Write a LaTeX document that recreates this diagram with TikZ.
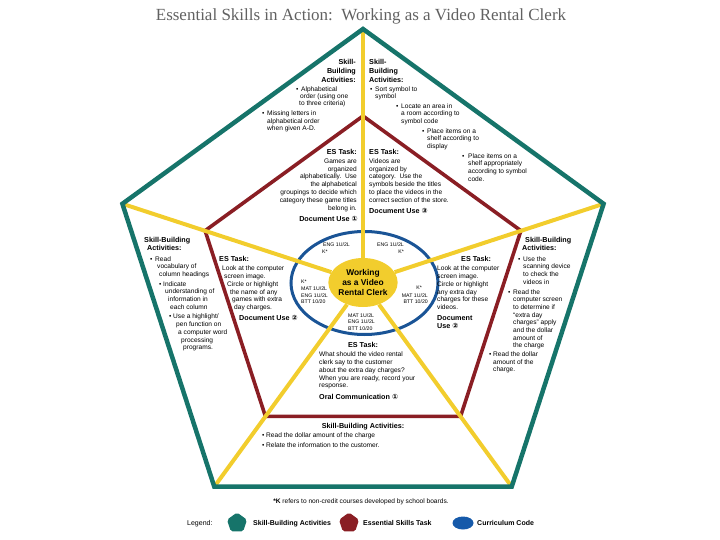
\documentclass[tikz,border=0pt]{standalone}
\usepackage{fontspec}
\setmainfont{Liberation Sans}
\newfontfamily\titlefont{Liberation Serif}
\newfontfamily\symfont{DejaVu Sans}
\usetikzlibrary{shapes.geometric}
\definecolor{skteal}{RGB}{22,116,106}
\definecolor{skred}{RGB}{138,30,36}
\definecolor{skyellow}{RGB}{242,205,45}
\definecolor{skblue}{RGB}{26,84,150}
\definecolor{sklegblue}{RGB}{22,90,170}
\newcommand\mkline[5]{\node[#1] (#2) at (#3,#4) {#5};}
\newcommand\circnum[1]{{\symfont #1}}
\begin{document}
\begin{tikzpicture}[x=1pt,y=-1pt,
  tx/.style={inner sep=0pt, font=\fontsize{6.6}{7.6}\selectfont},
  txl/.style={tx, anchor=base west},
  txr/.style={tx, anchor=base east},
  txc/.style={tx, anchor=base},
  hd/.style={inner sep=0pt, font=\bfseries\fontsize{7.2}{9}\selectfont},
  hdl/.style={hd, anchor=base west},
  hdr/.style={hd, anchor=base east},
  hdc/.style={hd, anchor=base},
  cd/.style={inner sep=0pt, font=\fontsize{5.2}{6}\selectfont},
  cdl/.style={cd, anchor=base west},
  cdr/.style={cd, anchor=base east},
  tealline/.style={draw=skteal, line width=4.5pt, line join=miter},
  redline/.style={draw=skred, line width=3.6pt, line join=miter},
  yelline/.style={draw=skyellow, line width=4pt},
  legtxt/.style={inner sep=0pt, anchor=base west, font=\bfseries\fontsize{7}{8}\selectfont}
]
\useasboundingbox (0,0) rectangle (720,540);

% vertices
\coordinate (o1) at (363,29);
\coordinate (o2) at (603.6,203.8);
\coordinate (o3) at (511.7,486.7);
\coordinate (o4) at (214.3,486.7);
\coordinate (o5) at (122.4,203.8);
\coordinate (i1) at (363,116);
\coordinate (i2) at (520.9,230.7);
\coordinate (i3) at (460.6,416.3);
\coordinate (i4) at (265.4,416.3);
\coordinate (i5) at (205.1,230.7);

% inner pentagon
\draw[redline] (i1) -- (i2) -- (i3) -- (i4) -- (i5) -- cycle;

% curriculum ellipse
\node[ellipse, draw=skblue, line width=3pt, minimum width=147pt, minimum height=103pt, inner sep=0pt] (cur) at (364.5,283) {};

% hub
\node[ellipse, fill=skyellow, minimum width=69pt, minimum height=49pt, inner sep=0pt, align=center,
      font=\bfseries\fontsize{8.4}{10}\selectfont] (hub) at (363,282.5) {Working\\as a Video\\Rental Clerk};

% spokes
\foreach \v in {o1,o2,o3,o4,o5} \draw[yelline] (hub) -- (\v);

% outer pentagon
\draw[tealline] (o1) -- (o2) -- (o3) -- (o4) -- (o5) -- cycle;

% title
\node[inner sep=0pt, anchor=base, font=\titlefont\fontsize{17}{19}\selectfont, text=black!62] (title) at (361,21)
  {Essential Skills in Action:\ \ Working as a Video Rental Clerk};

% ---- top-left skill-building
\mkline{hdr}{tla}{356}{65}{Skill-}
\mkline{hdr}{tlb}{356}{74}{Building}
\mkline{hdr}{tlc}{356}{83}{Activities:}
\mkline{txl}{tl1b}{296}{92}{\textbullet}
\mkline{txl}{tl1}{301}{92}{Alphabetical}
\mkline{txl}{tl2}{300}{99}{order (using one}
\mkline{txl}{tl3}{299}{106}{to three criteria)}
\mkline{txl}{tl4b}{262}{116}{\textbullet}
\mkline{txl}{tl4}{267}{116}{Missing letters in}
\mkline{txl}{tl5}{267}{124}{alphabetical order}
\mkline{txl}{tl6}{267}{131}{when given A-D.}

% ---- top-right skill-building
\mkline{hdl}{tra}{369}{65}{Skill-}
\mkline{hdl}{trb}{369}{74}{Building}
\mkline{hdl}{trc}{369}{83}{Activities:}
\mkline{txl}{tr1b}{370}{92}{\textbullet}
\mkline{txl}{tr1}{375}{92}{Sort symbol to}
\mkline{txl}{tr2}{375}{99}{symbol}
\mkline{txl}{tr3b}{396}{109}{\textbullet}
\mkline{txl}{tr3}{401}{109}{Locate an area in}
\mkline{txl}{tr4}{401}{116}{a room according to}
\mkline{txl}{tr5}{401}{124}{symbol code}
\mkline{txl}{tr6b}{422}{134}{\textbullet}
\mkline{txl}{tr6}{427}{134}{Place items on a}
\mkline{txl}{tr7}{427}{141}{shelf according to}
\mkline{txl}{tr8}{427}{149}{display}
\mkline{txl}{tr9b}{462}{159}{\textbullet}
\mkline{txl}{tr9}{468}{159}{Place items on a}
\mkline{txl}{tr10}{468}{166}{shelf appropriately}
\mkline{txl}{tr11}{468}{174}{according to symbol}
\mkline{txl}{tr12}{468}{182}{code.}

% ---- top-left ES task
\mkline{hdr}{ela}{357}{155}{ES Task:}
\mkline{txr}{el1}{357}{164}{Games are}
\mkline{txr}{el2}{357}{172}{organized}
\mkline{txr}{el3}{357}{179}{alphabetically.\ \ Use}
\mkline{txr}{el4}{357}{187}{the alphabetical}
\mkline{txr}{el5}{357}{195}{groupings to decide which}
\mkline{txr}{el6}{357}{203}{category these game titles}
\mkline{txr}{el7}{357}{211}{belong in.}
\mkline{hdr}{eld}{358}{222}{Document Use \circnum{①}}

% ---- top-right ES task
\mkline{hdl}{era}{369}{155}{ES Task:}
\mkline{txl}{er1}{369}{164}{Videos are}
\mkline{txl}{er2}{369}{172}{organized by}
\mkline{txl}{er3}{369}{179}{category.\ \ Use the}
\mkline{txl}{er4}{369}{187}{symbols beside the titles}
\mkline{txl}{er5}{369}{195}{to place the videos in the}
\mkline{txl}{er6}{369}{203}{correct section of the store.}
\mkline{hdl}{erd}{369}{214}{Document Use \circnum{③}}

% ---- middle-left skill-building
\mkline{hdl}{mla}{144}{243}{Skill-Building}
\mkline{hdl}{mlb}{147}{251}{Activities:}
\mkline{txl}{ml1b}{150}{261}{\textbullet}
\mkline{txl}{ml1}{155}{261}{Read}
\mkline{txl}{ml2}{157}{268}{vocabulary of}
\mkline{txl}{ml3}{159}{276}{column headings}
\mkline{txl}{ml4b}{159}{286}{\textbullet}
\mkline{txl}{ml4}{163}{286}{Indicate}
\mkline{txl}{ml5}{165}{293}{understanding of}
\mkline{txl}{ml6}{168}{301}{information in}
\mkline{txl}{ml7}{170}{309}{each column}
\mkline{txl}{ml8b}{169}{318}{\textbullet}
\mkline{txl}{ml8}{173}{318}{Use a highlight/}
\mkline{txl}{ml9}{176}{326}{pen function on}
\mkline{txl}{ml10}{178}{334}{a computer word}
\mkline{txl}{ml11}{181}{342}{processing}
\mkline{txl}{ml12}{183}{349}{programs.}

% ---- middle-left ES task
\mkline{hdl}{mea}{219}{261}{ES Task:}
\mkline{txl}{me1}{222}{270}{Look at the computer}
\mkline{txl}{me2}{224}{278}{screen image.}
\mkline{txl}{me3}{227}{286}{Circle or highlight}
\mkline{txl}{me4}{230}{294}{the name of any}
\mkline{txl}{me5}{232}{301}{games with extra}
\mkline{txl}{me6}{234}{309}{day charges.}
\mkline{hdl}{med}{239}{320}{Document Use \circnum{②}}

% ---- middle-right ES task
\mkline{hdl}{nea}{461}{261}{ES Task:}
\mkline{txl}{ne1}{437}{270}{Look at the computer}
\mkline{txl}{ne2}{437}{278}{screen image.}
\mkline{txl}{ne3}{437}{286}{Circle or highlight}
\mkline{txl}{ne4}{437}{294}{any extra day}
\mkline{txl}{ne5}{437}{301}{charges for these}
\mkline{txl}{ne6}{437}{309}{videos.}
\mkline{hdl}{ned}{437}{320}{Document}
\mkline{hdl}{nee}{437}{328}{Use \circnum{②}}

% ---- middle-right skill-building
\mkline{hdl}{mra}{525}{243}{Skill-Building}
\mkline{hdl}{mrb}{522}{251}{Activities:}
\mkline{txl}{mr1b}{518}{261}{\textbullet}
\mkline{txl}{mr1}{523}{261}{Use the}
\mkline{txl}{mr2}{523}{268}{scanning device}
\mkline{txl}{mr3}{523}{276}{to check the}
\mkline{txl}{mr4}{523}{284}{videos in}
\mkline{txl}{mr5b}{508}{294}{\textbullet}
\mkline{txl}{mr5}{513}{294}{Read the}
\mkline{txl}{mr6}{513}{301}{computer screen}
\mkline{txl}{mr7}{513}{309}{to determine if}
\mkline{txl}{mr8}{513}{317}{“extra day}
\mkline{txl}{mr9}{513}{324}{charges” apply}
\mkline{txl}{mr10}{513}{332}{and the dollar}
\mkline{txl}{mr11}{513}{340}{amount of}
\mkline{txl}{mr12}{513}{347}{the charge}
\mkline{txl}{mr13b}{489}{356}{\textbullet}
\mkline{txl}{mr13}{493}{356}{Read the dollar}
\mkline{txl}{mr14}{493}{364}{amount of the}
\mkline{txl}{mr15}{493}{371}{charge.}

% ---- curriculum codes
\mkline{cdl}{c1}{323}{247}{ENG 1U/2L}
\mkline{cdl}{c2}{322}{254}{K*}
\mkline{cdr}{c3}{404}{247}{ENG 1U/2L}
\mkline{cdr}{c4}{404}{254}{K*}
\mkline{cdl}{c5}{301}{283}{K*}
\mkline{cdl}{c6}{301}{290}{MAT 1U/2L}
\mkline{cdl}{c7}{301}{297}{ENG 1U/2L}
\mkline{cdl}{c8}{301}{303}{BTT 10/20}
\mkline{cdr}{c9}{422}{289}{K*}
\mkline{cdr}{c10}{428}{297}{MAT 1U/2L}
\mkline{cdr}{c11}{428}{303}{BTT 10/20}
\mkline{cdl}{c12}{348}{317}{MAT 1U/2L}
\mkline{cdl}{c13}{348}{323.5}{ENG 1U/2L}
\mkline{cdl}{c14}{348}{330}{BTT 10/20}

% ---- bottom ES task
\mkline{hdc}{bea}{363}{347}{ES Task:}
\mkline{txl}{be1}{319}{356}{What should the video rental}
\mkline{txl}{be2}{319}{364}{clerk say to the customer}
\mkline{txl}{be3}{319}{372}{about the extra day charges?}
\mkline{txl}{be4}{319}{380}{When you are ready, record your}
\mkline{txl}{be5}{319}{387}{response.}
\mkline{hdl}{bed}{319}{399}{Oral Communication \circnum{①}}

% ---- bottom skill-building
\mkline{hdc}{bsa}{363}{428}{Skill-Building Activities:}
\mkline{txl}{bs1b}{262}{437}{\textbullet}
\mkline{txl}{bs1}{266}{437}{Read the dollar amount of the charge}
\mkline{txl}{bs2b}{262}{447}{\textbullet}
\mkline{txl}{bs2}{266}{447}{Relate the information to the customer.}

% ---- footnote
\mkline{txc}{foot}{361}{503}{\textbf{*K} refers to non-credit courses developed by school boards.}

% ---- legend
\node[inner sep=0pt, anchor=base west, font=\fontsize{7}{8}\selectfont] (lgt) at (187,525) {Legend:};
\node[regular polygon, regular polygon sides=5, minimum size=21pt, inner sep=0pt, fill=skteal, rounded corners=2pt] (lg1) at (237,523) {};
\node[legtxt] (lg1t) at (253,525) {Skill-Building Activities};
\node[regular polygon, regular polygon sides=5, minimum size=21pt, inner sep=0pt, fill=skred, rounded corners=2pt] (lg2) at (349,523) {};
\node[legtxt] (lg2t) at (363,525) {Essential Skills Task};
\node[ellipse, minimum width=21pt, minimum height=13pt, inner sep=0pt, fill=sklegblue] (lg3) at (463,523) {};
\node[legtxt] (lg3t) at (477,525) {Curriculum Code};
\end{tikzpicture}
\end{document}
